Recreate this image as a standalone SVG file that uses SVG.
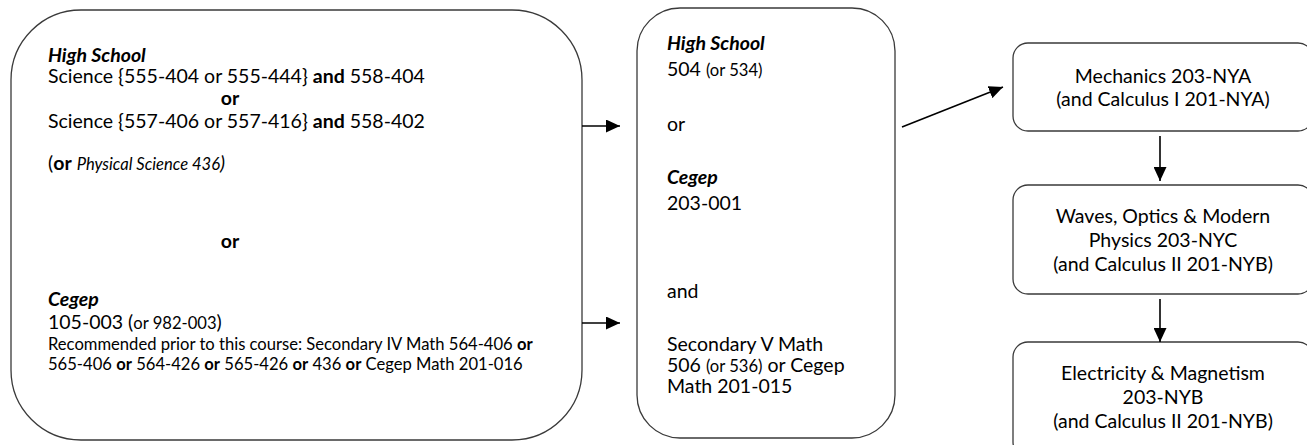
<svg xmlns="http://www.w3.org/2000/svg" width="1307" height="445" viewBox="0 0 1307 445">
<style>
text{font-family:Lato,"Open Sans","Liberation Sans",sans-serif;font-size:19.5px;fill:#000}
.b{font-weight:bold}
.bi{font-weight:bold;font-style:italic}
.i{font-style:italic}
.s{font-size:16.6px}
.m{text-anchor:middle}
.box{fill:#fff;stroke:#3a3a3a;stroke-width:1.3}
.ln{stroke:#000;stroke-width:1.6;fill:none}
</style>
<defs>
<marker id="ah" markerWidth="14" markerHeight="13" refX="14" refY="6.5" orient="auto" markerUnits="userSpaceOnUse">
<path d="M0,0 L14,6.5 L0,13 Z" fill="#000"/>
</marker>
</defs>
<rect width="1307" height="445" fill="#fff"/>
<g id="prereq-science">
<rect class="box" x="11" y="10" width="571" height="430" rx="70" ry="70"/>
<text x="48" y="62" class="bi">High School</text>
<text x="48" y="83">Science {555-404 or 555-444} <tspan class="b">and</tspan> 558-404</text>
<text x="230" y="105" class="b m">or</text>
<text x="48" y="128">Science {557-406 or 557-416} <tspan class="b">and</tspan> 558-402</text>
<text x="48" y="170">(<tspan class="b">or</tspan> <tspan class="i s">Physical Science 436</tspan><tspan class="i">)</tspan></text>
<text x="230" y="248" class="b m">or</text>
<text x="48" y="306" class="bi">Cegep</text>
<text x="48" y="329">105-003 (<tspan class="s">or 982-003</tspan>)</text>
<text x="48" y="350" class="s">Recommended prior to this course: Secondary IV Math 564-406 <tspan class="b">or</tspan></text>
<text x="48" y="370" class="s">565-406 <tspan class="b">or</tspan> 564-426 <tspan class="b">or</tspan> 565-426 <tspan class="b">or</tspan> 436 <tspan class="b">or</tspan> Cegep Math 201-016</text>
</g>
<g id="prereq-math">
<rect class="box" x="637" y="8" width="258" height="430" rx="43" ry="43"/>
<text x="667" y="50" class="bi">High School</text>
<text x="667" y="76">504 <tspan class="s">(or 534)</tspan></text>
<text x="667" y="131">or</text>
<text x="667" y="184" class="bi">Cegep</text>
<text x="667" y="210">203-001</text>
<text x="667" y="298">and</text>
<text x="667" y="351">Secondary V Math</text>
<text x="667" y="372">506 <tspan class="s">(or 536)</tspan> or Cegep</text>
<text x="667" y="393">Math 201-015</text>
</g>
<g id="mechanics">
<rect class="box" x="1013" y="43" width="300" height="88" rx="15" ry="15"/>
<text x="1163" y="83" class="m">Mechanics 203-NYA</text>
<text x="1163" y="106" class="m">(and Calculus I 201-NYA)</text>
</g>
<g id="waves">
<rect class="box" x="1013" y="185" width="300" height="109" rx="15" ry="15"/>
<text x="1163" y="223" class="m">Waves, Optics &amp; Modern</text>
<text x="1163" y="247" class="m">Physics 203-NYC</text>
<text x="1163" y="271" class="m">(and Calculus II 201-NYB)</text>
</g>
<g id="electricity">
<rect class="box" x="1013" y="342" width="300" height="115" rx="15" ry="15"/>
<text x="1163" y="380" class="m">Electricity &amp; Magnetism</text>
<text x="1163" y="404" class="m">203-NYB</text>
<text x="1163" y="428" class="m">(and Calculus II 201-NYB)</text>
</g>
<g id="connectors">
<line class="ln" x1="582" y1="126" x2="620" y2="126" marker-end="url(#ah)"/>
<line class="ln" x1="582" y1="323" x2="620" y2="323" marker-end="url(#ah)"/>
<line class="ln" x1="902" y1="127" x2="1003" y2="87" marker-end="url(#ah)"/>
<line class="ln" x1="1160" y1="136" x2="1160" y2="181" marker-end="url(#ah)"/>
<line class="ln" x1="1160" y1="299" x2="1160" y2="342" marker-end="url(#ah)"/>
</g>
</svg>
